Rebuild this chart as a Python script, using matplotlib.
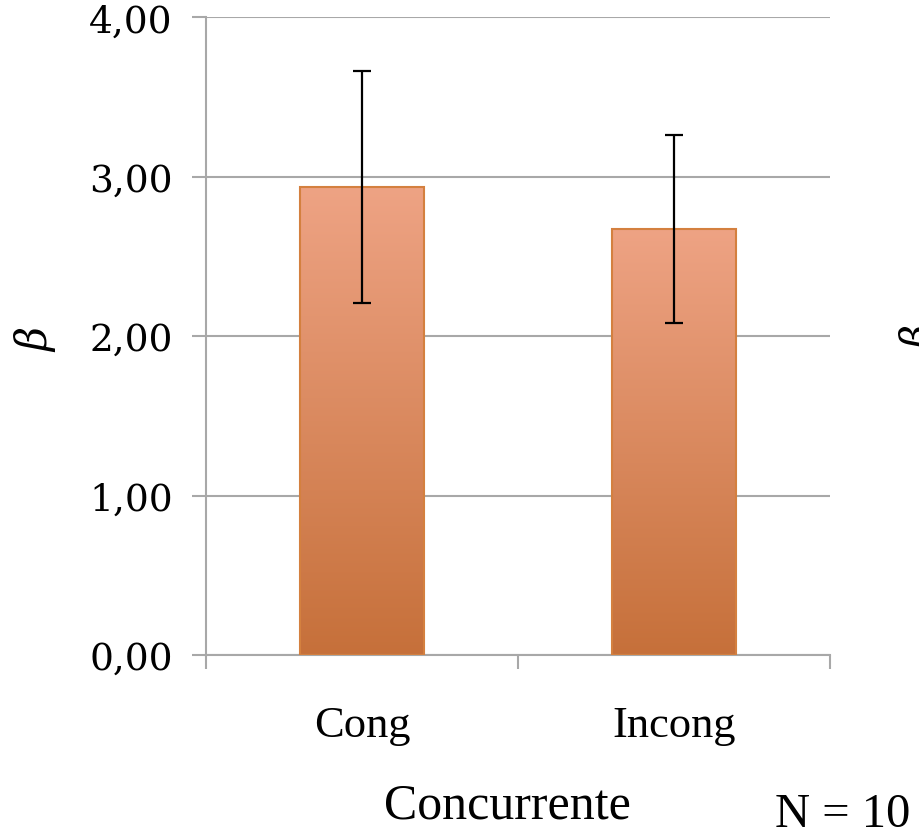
import matplotlib
matplotlib.use("Agg")
import matplotlib.pyplot as plt
import numpy as np
from matplotlib.colors import LinearSegmentedColormap

categories = ["Cong", "Incong"]
means = [2.935, 2.67]
errors = [0.73, 0.59]
yticks = [0.0, 1.0, 2.0, 3.0, 4.0]
ytick_labels = ["0,00", "1,00", "2,00", "3,00", "4,00"]
xlabel = "Concurrente"
ylabel = "β"
note = "N = 10"

fig = plt.figure(figsize=(9.2, 8.37), dpi=100)
ax = fig.add_axes([206/920, 1-656/837, (830-206)/920, (656-18.3)/837])

grid_c = "#a8a8a8"
x = np.arange(len(categories))
bars = ax.bar(x, means, width=0.4, facecolor="none", edgecolor="#d4803f",
              linewidth=1.5, zorder=3)

cmap = LinearSegmentedColormap.from_list("g", ["#c6703a", "#eea384"])
grad = np.linspace(0, 1, 256).reshape(-1, 1)
for b in bars:
    bx, by = b.get_x(), b.get_y()
    w, h = b.get_width(), b.get_height()
    im = ax.imshow(grad, cmap=cmap, origin="lower", aspect="auto",
                   extent=[bx, bx + w, by, by + h], zorder=2)
    im.set_clip_path(b)

ax.errorbar(x, means, yerr=errors, fmt="none", ecolor="black",
            elinewidth=1.6, capsize=6.5, capthick=1.6, zorder=4)

ax.set_xlim(-0.5, 1.5)
ax.set_ylim(0, 4)
ax.set_yticks(yticks)
ax.set_yticklabels(ytick_labels, fontsize=27, family="DejaVu Serif")
ax.yaxis.grid(True, color=grid_c, linewidth=1.5, zorder=0)
ax.set_axisbelow(True)

ax.set_xticks([-0.5, 0.5, 1.5])
ax.set_xticklabels([])
ax.set_xticks(x, minor=True)
ax.set_xticklabels(categories, minor=True, fontsize=32, family="Liberation Serif")
ax.tick_params(axis="x", which="minor", length=0, pad=36)
ax.tick_params(axis="x", which="major", length=10, width=1.5, color=grid_c, direction="out")
ax.tick_params(axis="y", length=10, width=1.5, color=grid_c, direction="out", pad=14)

for s in ["top", "right"]:
    ax.spines[s].set_visible(False)
for s in ["left", "bottom"]:
    ax.spines[s].set_color(grid_c)
    ax.spines[s].set_linewidth(1.5)

fig.text(507/920, 1-806/837, xlabel, fontsize=36, family="Liberation Serif",
         ha="center", va="center")
fig.text(843/920, 1-815/837, note, fontsize=35, family="Liberation Serif",
         ha="center", va="center")
fig.text(36/920, 1-340/837, ylabel, fontsize=30, family="DejaVu Serif",
         style="italic", rotation=90, ha="center", va="center")
fig.text(921/920, 1-338/837, ylabel, fontsize=30, family="DejaVu Serif",
         style="italic", rotation=90, ha="center", va="center")

fig.savefig("out.png", dpi=100)
